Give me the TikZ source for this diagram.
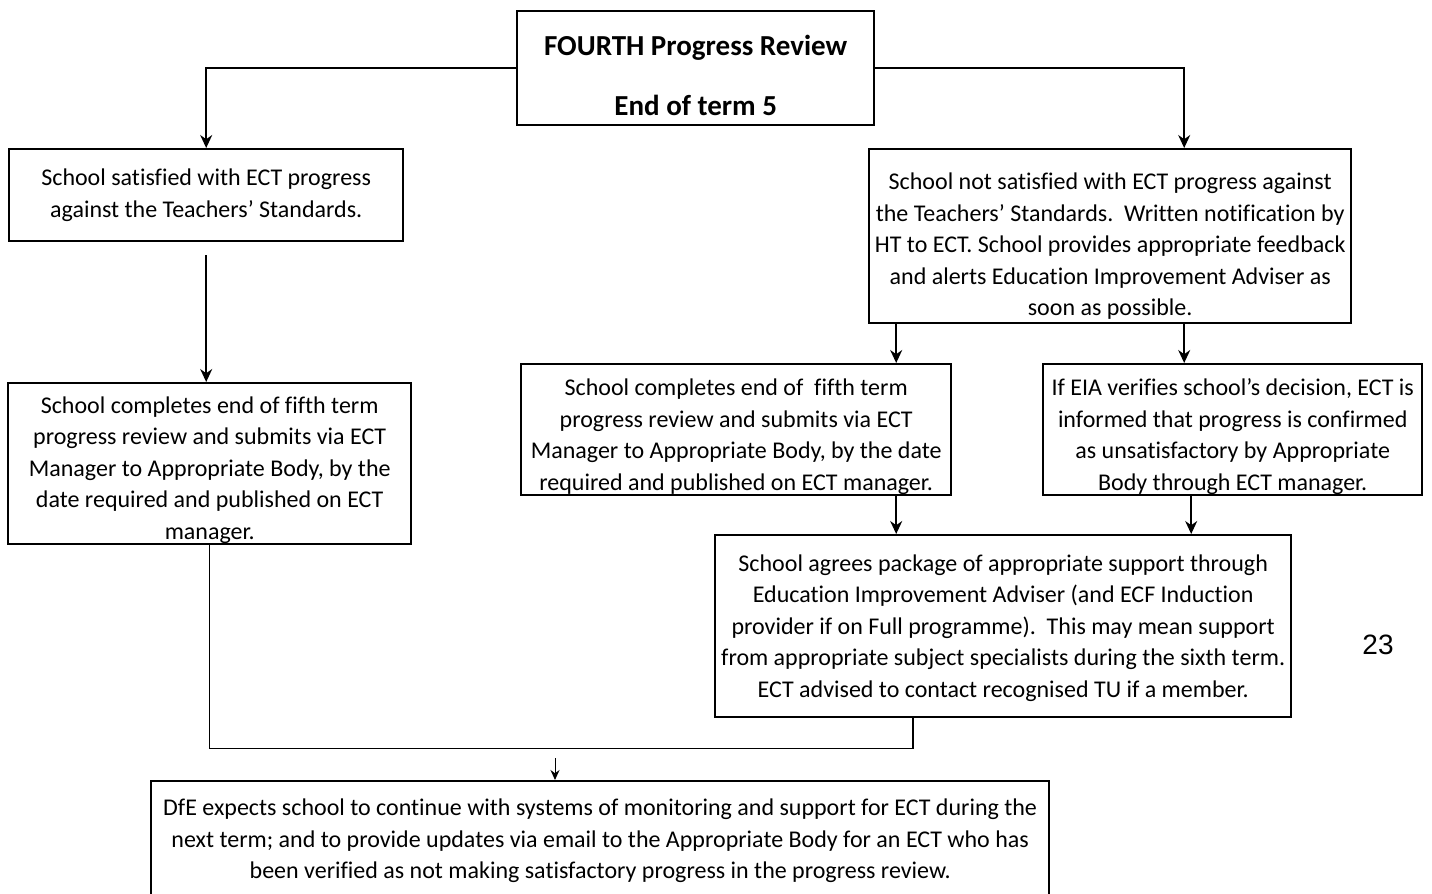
\documentclass[tikz,border=0pt]{standalone}
\usepackage{fontspec}
\setmainfont{Carlito}[Ligatures=CommonOff]
\newfontfamily\pagefont{Liberation Sans}
\usetikzlibrary{arrows.meta}
\newcommand{\drop}[1]{\rule{0pt}{#1}}

\begin{document}
\begin{tikzpicture}[x=0.5pt, y=-0.5pt, >={Stealth[length=6.5pt,width=6pt]},
	box/.style={draw, line width=1.2pt, align=center, inner sep=0pt, anchor=north west, font=\fontsize{12}{15.75}\selectfont},
	link/.style={line width=0.75pt}]
	\useasboundingbox (0,0) rectangle (1432,894);
	\node[box, minimum width=178.5pt, minimum height=57pt, font=\fontsize{14.5}{30}\selectfont\bfseries] (review) at (516,10) {\drop{17pt}FOURTH Progress Review\\End of term 5};
	\node[box, minimum width=197pt, minimum height=46pt] (satisfied) at (8,148) {School satisfied with ECT progress\\against the Teachers’ Standards.};
	\node[box, minimum width=241pt, minimum height=87pt] (notsatisfied) at (868,148) {\drop{18.5pt}School not satisfied with ECT progress against\\the Teachers’ Standards.\ \ Written notification by\\HT to ECT. School provides appropriate feedback\\and alerts Education Improvement Adviser as\\soon as possible.};
	\node[box, minimum width=201.5pt, minimum height=80.5pt] (submitleft) at (7,382) {\drop{14.8pt}School completes end of fifth term\\progress review and submits via ECT\\Manager to Appropriate Body, by the\\date required and published on ECT\\manager.};
	\node[box, minimum width=215pt, minimum height=65.5pt] (submitright) at (520,363) {\drop{15.5pt}School completes end of\ \ fifth term\\progress review and submits via ECT\\Manager to Appropriate Body, by the date\\required and published on ECT manager.};
	\node[box, minimum width=189.5pt, minimum height=65.5pt] (confirmed) at (1042,363) {\drop{15.5pt}If EIA verifies school’s decision, ECT is\\informed that progress is confirmed\\as unsatisfactory by Appropriate\\Body through ECT manager.};
	\node[box, minimum width=288pt, minimum height=91pt] (support) at (714,534) {\drop{10pt}School agrees package of appropriate support through\\Education Improvement Adviser (and ECF Induction\\provider if on Full programme).\ \ This may mean support\\from appropriate subject specialists during the sixth term.\\ECT advised to contact recognised TU if a member.};
	\node[box, minimum width=449pt, minimum height=60pt] (dfe) at (150,780) {DfE expects school to continue with systems of monitoring and support for ECT during the\\next term; and to provide updates via email to the Appropriate Body for an ECT who has\\been verified as not making satisfactory progress in the progress review.};
	\node[font=\pagefont\fontsize{14}{14}\selectfont] (pagenum) at (1378,645) {23};

	\coordinate (outL) at ([xshift=-107pt]notsatisfied.south);
	\coordinate (outR) at ([xshift=37pt]notsatisfied.south);
	\coordinate (inR) at ([xshift=-20.75pt]confirmed.south);
	\coordinate (gap) at ([yshift=-6.5pt]satisfied.south);
	\coordinate (merge) at (555,758);

	\draw[link, ->] (review.west) -| (satisfied.north);
	\draw[link, ->] (review.east) -| (outR |- notsatisfied.north);
	\draw[link, ->] (gap) -- (gap |- submitleft.north);
	\draw[link, ->] (outL) -- (outL |- submitright.north);
	\draw[link, ->] (outR) -- (outR |- confirmed.north);
	\draw[link, ->] (submitright.south -| outL) -- (outL |- support.north);
	\draw[link, ->] (inR) -- (inR |- support.north);
	\draw[link] (submitleft.south) -- ++(0,203) -| ([xshift=-45pt]support.south);
	\draw[->, line width=0.5pt, >={Stealth[length=5pt,width=4.5pt]}] (merge) -- (merge |- dfe.north);
\end{tikzpicture}
\end{document}
